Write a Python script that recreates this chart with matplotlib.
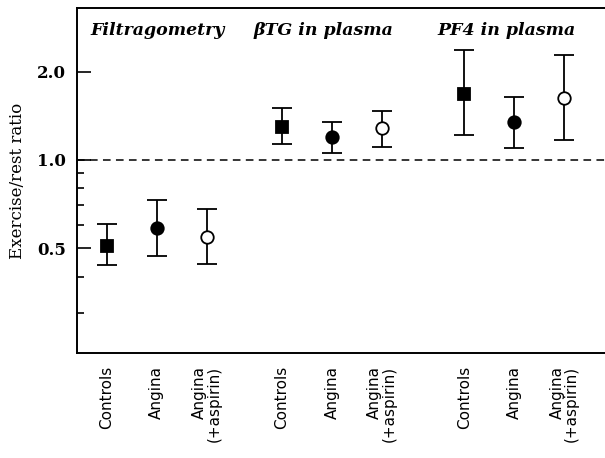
import matplotlib
matplotlib.use("Agg")
import matplotlib.pyplot as plt
from matplotlib.ticker import FixedLocator, NullFormatter

# exercise/rest ratios (centre, lower, upper)
groups = ["Filtragometry", "\u03b2TG in plasma", "PF4 in plasma"]
subjects = ["Controls", "Angina", "Angina\n(+aspirin)"]
positions = [0, 1, 2, 3.5, 4.5, 5.5, 7.15, 8.15, 9.15]
ratio = [0.508, 0.588, 0.546, 1.30, 1.196, 1.284, 1.679, 1.352, 1.633]
lower = [0.437, 0.471, 0.441, 1.134, 1.054, 1.11, 1.215, 1.096, 1.168]
upper = [0.603, 0.729, 0.678, 1.503, 1.346, 1.468, 2.366, 1.638, 2.28]
markers = ["s", "o", "o"]
faces = ["black", "black", "white"]

plt.rcParams['font.family'] = ['DejaVu Serif']

fig = plt.figure(figsize=(6.05, 4.58), dpi=100)
ax = fig.add_axes([0.127, 0.229, 0.873, 0.754])

for i, x in enumerate(positions):
    k = i % 3
    y = ratio[i]
    ax.errorbar([x], [y], yerr=[[y - lower[i]], [upper[i] - y]],
                fmt="none", ecolor="black", elinewidth=1.3, capsize=7,
                capthick=1.3, zorder=2)
    ax.plot([x], [y], marker=markers[k], markersize=8 if k == 0 else 9,
            markerfacecolor=faces[k], markeredgecolor="black",
            markeredgewidth=1.3, linestyle="none", zorder=3)

ax.axhline(1.0, color="black", linestyle=(0, (5, 3.5)), linewidth=1.1)

ax.set_yscale("log")
ax.set_ylim(0.219, 3.31)
ax.set_xlim(-0.6, 9.96)

ax.yaxis.set_major_locator(FixedLocator([0.5, 1.0, 2.0]))
ax.set_yticklabels(["0.5", "1.0", "2.0"], fontsize=12, fontweight="bold")
ax.yaxis.set_minor_locator(FixedLocator([0.3, 0.4, 0.6, 0.7, 0.8, 0.9]))
ax.yaxis.set_minor_formatter(NullFormatter())
ax.tick_params(axis="y", which="major", direction="in", length=10, width=1.2, pad=8)
ax.tick_params(axis="y", which="minor", direction="in", length=5, width=1.2)

ax.set_xticks(positions)
ax.set_xticklabels(subjects * 3, rotation=90, va="top", ha="center",
                   fontsize=11, linespacing=0.95, multialignment="right",
                   family="DejaVu Sans")
ax.tick_params(axis="x", length=0, pad=9)

ax.set_ylabel("Exercise/rest ratio", fontsize=12, labelpad=8)

for s in ["left", "top", "bottom"]:
    ax.spines[s].set_linewidth(1.4)
ax.spines["right"].set_visible(False)

title_x = [1.02, 4.34, 8.0]
for gx, g in zip(title_x, groups):
    ax.text(gx, 0.96, g, transform=ax.get_xaxis_transform(), ha="center",
            va="top", fontsize=12.5, fontstyle="italic", fontweight="bold")

fig.savefig("out.png", dpi=100)
